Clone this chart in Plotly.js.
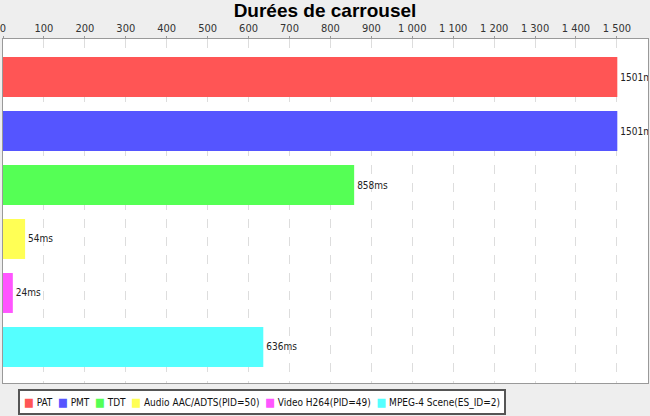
<!DOCTYPE html>
<html>
<head>
<meta charset="utf-8">
<script src="https://cdn.plot.ly/plotly-3.0.1.min.js"></script>
<style>html,body{margin:0;padding:0;background:#EEEEEE;}#chart{width:650px;height:416px;}</style>
</head>
<body>
<div id="chart"></div>
<script>
const chartTitle = "Durées de carrousel";
const seriesNames = ["PAT", "PMT", "TDT", "Audio AAC/ADTS(PID=50)", "Video H264(PID=49)", "MPEG-4 Scene(ES_ID=2)"];
const durationsMs = [1501, 1501, 858, 54, 24, 636];
const seriesColors = ["#FF5555", "#5555FF", "#55FF55", "#FFFF55", "#FF55FF", "#55FFFF"];
const tickValues = [0,100,200,300,400,500,600,700,800,900,1000,1100,1200,1300,1400,1500];

const traces = seriesNames.map((name, i) => ({
  type: "bar",
  orientation: "h",
  name: name,
  y: [name],
  x: [durationsMs[i]],
  width: 0.74,
  marker: {color: seriesColors[i], line: {width: 0}},
  text: [durationsMs[i] + "ms"],
  textposition: "outside",
  constraintext: "none",
  cliponaxis: true,
  textfont: {family: "DejaVu Sans Condensed", size: 10, color: "#222222"},
  hoverinfo: "x+name"
}));

// legend built from the series arrays, drawn as one boxed text line
const legendText = seriesNames.map((name, i) =>
  "<span style='color:" + seriesColors[i] + ";font-size:11.5px'>■</span> " + name).join("  ");

const layout = {
  width: 650, height: 416,
  paper_bgcolor: "#EEEEEE",
  plot_bgcolor: "#FFFFFF",
  separators: ", ",
  margin: {l: 3, r: 2, t: 39, b: 33, pad: 0},
  title: {text: chartTitle, font: {family: "Liberation Sans", size: 19, color: "#000000", weight: "bold"},
          x: 0.5, xanchor: "center", yref: "container", y: 0.975, yanchor: "middle"},
  barmode: "overlay",
  showlegend: false,
  annotations: [{
    xref: "paper", yref: "paper", x: 0.023, y: -0.017, xanchor: "left", yanchor: "top",
    text: legendText, showarrow: false, align: "left",
    font: {family: "DejaVu Sans Condensed", size: 10, color: "#111111"},
    bgcolor: "#FFFFFF", bordercolor: "#555555", borderwidth: 2, borderpad: 4
  }],
  xaxis: {side: "top", range: [0, 1576], tickvals: tickValues, tickformat: ",d",
          ticklabeloverflow: "allow",
          showgrid: true, gridcolor: "#DDDDDD", griddash: "dash", gridwidth: 1,
          zeroline: false, showline: true, linecolor: "#999999", linewidth: 1, mirror: true,
          ticks: "outside", ticklen: 2, tickcolor: "#999999",
          tickfont: {family: "DejaVu Sans Condensed", size: 11, color: "#333333"}, fixedrange: true},
  yaxis: {type: "category", categoryorder: "array", categoryarray: seriesNames,
          range: [5.667, -0.704], showticklabels: false, ticks: "",
          showgrid: false, zeroline: false, showline: true, linecolor: "#999999", linewidth: 1, mirror: true, fixedrange: true}
};

Plotly.newPlot("chart", traces, layout, {displayModeBar: false, staticPlot: true});
</script>
</body>
</html>
